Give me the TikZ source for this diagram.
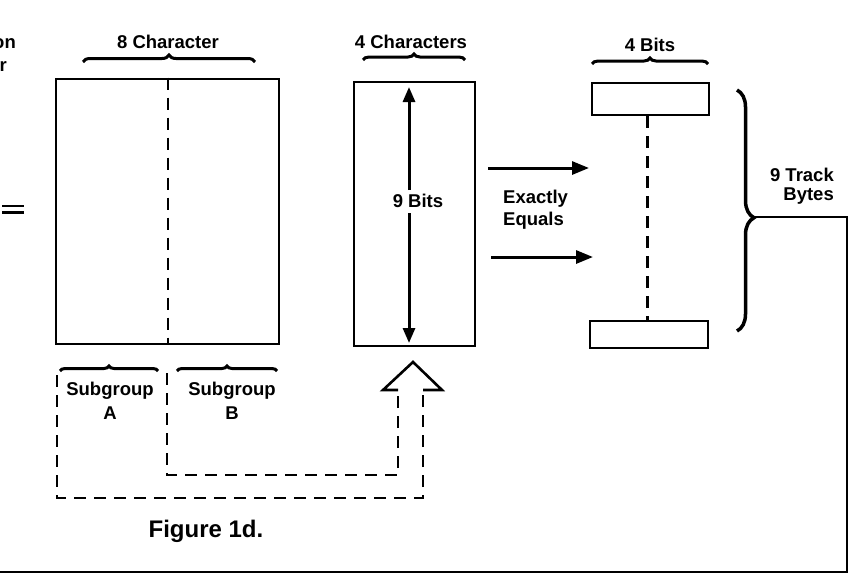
\documentclass[tikz,border=0pt]{standalone}
\usepackage{fontspec}
\setmainfont{Liberation Sans}
\usetikzlibrary{decorations.pathreplacing,arrows.meta}
\begin{document}
\begin{tikzpicture}[x=1pt,y=-1pt,
  boxs/.style={draw,line width=2.8pt,inner sep=0pt},
  lbl/.style={font=\fontsize{18.5}{22}\selectfont\bfseries,inner sep=0pt,anchor=base},
  brc/.style={decorate,decoration={brace,amplitude=#1},line width=3pt},
  dsh/.style={line width=2.4pt,dash pattern=on 12pt off 8pt},
  arr/.style={line width=3pt,-{Triangle[length=17pt,width=13pt]}},
  darr/.style={line width=3pt,-{Triangle[length=15pt,width=12pt]}},
  solid2/.style={line width=2.6pt,line join=miter}]
\useasboundingbox (0,0) rectangle (850,581);
% cut-off text at the left
\node[lbl,anchor=base east] (on) at (16,48) {on};
\node[lbl,anchor=base east] (rr) at (7,71) {r};
\draw[line width=2.6pt] (2,206) -- (24,206) (2,212.5) -- (24,212.5);
% boxes
\node[boxs,minimum width=223pt,minimum height=265pt] (big) at (167.5,211.5) {};
\node[boxs,minimum width=121pt,minimum height=264pt] (chars) at (414.5,214) {};
\node[boxs,minimum width=117pt,minimum height=32pt] (tb) at (650.5,99) {};
\node[boxs,minimum width=118pt,minimum height=27pt] (bb) at (649,334.5) {};
% dashed separators
\draw[dsh] (big.north) ++(0.5,0) coordinate (bt0) -- (bt0 |- big.south);
\draw[dsh] (tb.south) ++(-3,0) coordinate (tb0) -- (tb0 |- bb.north);
% top labels and braces
\node[lbl] (c8) at (168,48) {8 Character};
\draw[brc=7] (83,62) coordinate (c8a) -- (255,62) coordinate (c8b);
\node[lbl] (c4) at (411,48) {4 Characters};
\draw[brc=6] (363,60) coordinate (c4a) -- (465,60) coordinate (c4b);
\node[lbl] (b4) at (650,51) {4 Bits};
\draw[brc=6] (592,64) coordinate (b4a) -- (708,64) coordinate (b4b);
% 9 bits double arrow
\node[lbl] (nb) at (418,207) {9 Bits};
\coordinate (n1) at (409,190);
\coordinate (n2) at (409,87);
\coordinate (n3) at (409,213);
\coordinate (n4) at (409,343);
\draw[darr] (n1) -- (n2);
\draw[darr] (n3) -- (n4);
% exactly equals arrows
\coordinate (a1) at (488,168);
\coordinate (a2) at (589,168);
\coordinate (a3) at (491,257);
\coordinate (a4) at (593,257);
\draw[arr] (a1) -- (a2);
\draw[arr] (a3) -- (a4);
\node[lbl,anchor=base west] (ex1) at (503,203) {Exactly};
\node[lbl,anchor=base west] (ex2) at (503,225) {Equals};
% big right brace and frame line
\draw[brc=17,line width=3.5pt,decoration={aspect=0.53}] (737,90) -- (737,331);
\coordinate (bt) at (754,217);
\coordinate (rc) at (847,217);
\coordinate (rb) at (847,572);
\coordinate (lb) at (0,572);
\draw[line width=2.8pt,line join=miter] (bt) -- (rc) -- (rb) -- (lb);
\node[lbl,anchor=base east] (tr1) at (834,181) {9 Track};
\node[lbl,anchor=base east] (tr2) at (834,200) {Bytes};
% subgroup braces and labels
\draw[brc=5] (60,371) coordinate (sa1) -- (158,371) coordinate (sa2);
\draw[brc=5] (177,371) coordinate (sb1) -- (277,371) coordinate (sb2);
\node[lbl] (sga) at (110,395) {Subgroup};
\node[lbl] (sgaa) at (110,419) {A};
\node[lbl] (sgb) at (232,395) {Subgroup};
\node[lbl] (sgbb) at (232,419) {B};
% hollow arrow head
\coordinate (h1) at (398,390);
\coordinate (h2) at (383,390);
\coordinate (h3) at (413,362);
\coordinate (h4) at (442,390);
\coordinate (h5) at (423,390);
\draw[solid2] (h1) -- (h2) -- (h3) -- (h4) -- (h5);
% dashed paths
\coordinate (o1) at (57,375);
\coordinate (o2) at (57,498);
\coordinate (o3) at (423,498);
\coordinate (i1) at (167,373);
\coordinate (i2) at (167,475);
\coordinate (i3) at (398,475);
\draw[dsh] (o1) -- (o2) -- (o3) -- (h5);
\draw[dsh] (i1) -- (i2) -- (i3) -- (h1);
% caption
\node[font=\fontsize{24}{28}\selectfont\bfseries,inner sep=0pt,anchor=base] (fig) at (206,537) {Figure 1d.};
\end{tikzpicture}
\end{document}
